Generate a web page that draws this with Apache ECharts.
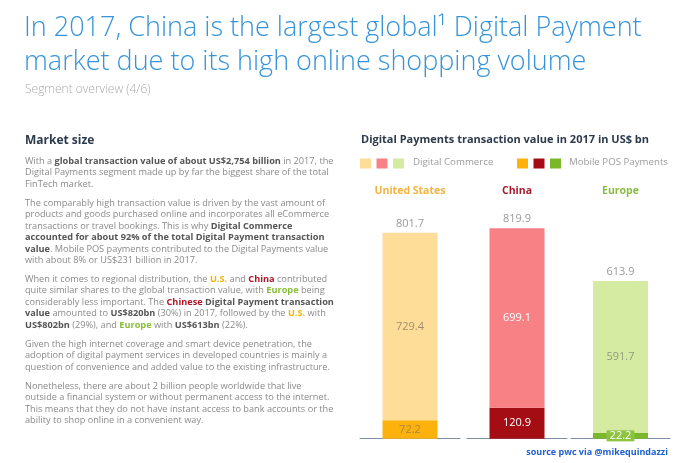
<!DOCTYPE html>
<html>
<head>
<meta charset="utf-8">
<script src="https://cdn.jsdelivr.net/npm/echarts@6/dist/echarts.min.js"></script>
<style>
  html, body { margin: 0; padding: 0; background: #fff; }
  #main { width: 680px; height: 463px; }
</style>
</head>
<body>
<div id="main"></div>
<script>
// chart data (US$ bn, 2017)
var regions = ['United States', 'China', 'Europe'];
var digitalCommerce = [729.4, 699.1, 591.7];
var mobilePOS = [72.2, 120.9, 22.2];
var totals = [801.7, 819.9, 613.9];

var lightColors = ['#fedd99', '#f78184', '#d4eba1'];
var darkColors = ['#fdb10d', '#a50d15', '#7ab829'];
var regionTextColors = ['#f5b440', '#a51c2c', '#8dbb45'];
var insideLabelColors = ['#a08c6c', '#ffffff', '#8f9c7c'];
var posLabelColors = ['#a88a3a', '#ffffff', '#ffffff'];

var FONT = '"Open Sans", "Noto Sans", sans-serif';

// grid placement for each region column
var gridLefts = [360, 467, 571];
var gridWidths = [100, 100, 99];

var grids = [], xAxes = [], yAxes = [], series = [];
for (var i = 0; i < regions.length; i++) {
  grids.push({ left: gridLefts[i], width: gridWidths[i], top: 207.6, bottom: 24.3 });
  // bottom axis: only the baseline
  xAxes.push({
    type: 'category', gridIndex: i, data: [regions[i]], position: 'bottom',
    axisLine: { show: true, lineStyle: { color: '#7f8ea6', width: 1 } },
    axisTick: { show: false }, axisLabel: { show: false }
  });
  // top axis: region name
  xAxes.push({
    type: 'category', gridIndex: i, data: [regions[i]], position: 'top',
    axisLine: { show: false }, axisTick: { show: false },
    axisLabel: {
      margin: 11, color: regionTextColors[i], fontFamily: FONT,
      fontSize: 10.5, fontWeight: 'bold'
    }
  });
  yAxes.push({ type: 'value', gridIndex: i, min: 0, max: 900, show: false, splitLine: { show: false } });

  (function (idx) {
    series.push({
      name: 'Mobile POS Payments', type: 'bar', stack: 'r' + idx,
      xAxisIndex: idx * 2, yAxisIndex: idx, barWidth: 55,
      data: [mobilePOS[idx]],
      itemStyle: { color: darkColors[idx] },
      label: {
        show: true, position: 'inside',
        color: posLabelColors[idx], fontFamily: FONT, fontSize: 11,
        backgroundColor: idx === 2 ? '#8cc440' : 'transparent',
        padding: idx === 2 ? [0, 3] : 0
      }
    });
    series.push({
      name: 'Digital Commerce', type: 'bar', stack: 'r' + idx,
      xAxisIndex: idx * 2, yAxisIndex: idx, barWidth: 55,
      data: [digitalCommerce[idx]],
      itemStyle: { color: lightColors[idx] },
      label: {
        show: true, position: 'inside',
        color: insideLabelColors[idx], fontFamily: FONT, fontSize: 11
      },
      markPoint: {
        symbol: 'rect', symbolSize: 1,
        itemStyle: { color: 'transparent' },
        label: {
          show: true, position: 'top', distance: 3,
          color: '#9a9a9a', fontFamily: FONT, fontSize: 11,
          formatter: function () { return totals[idx].toFixed(1); }
        },
        data: [{ coord: [0, totals[idx]] }]
      }
    });
  })(i);
}

// paragraph text on the left
var bodyText = [
  'With a {b|global transaction value of about US$2,754 billion} in 2017, the',
  'Digital Payments segment made up by far the biggest share of the total',
  'FinTech market.',
  '{s|}',
  'The comparably high transaction value is driven by the vast amount of',
  'products and goods purchased online and incorporates all eCommerce',
  'transactions or travel bookings. This is why {b|Digital Commerce}',
  '{b|accounted for about 92% of the total Digital Payment transaction}',
  '{b|value}. Mobile POS payments contributed to the Digital Payments value',
  'with about 8% or US$231 billion in 2017.',
  '{s|}',
  'When it comes to regional distribution, the {us|U.S.} and {cn|China} contributed',
  'quite similar shares to the global transaction value, with {eu|Europe} being',
  'considerably less important. The {cn|Chinese} {b|Digital Payment transaction}',
  '{b|value} amounted to {b|US$820bn} (30%) in 2017, followed by the {us|U.S.} with',
  '{b|US$802bn} (29%), and {eu|Europe} with {b|US$613bn} (22%).',
  '{s|}',
  'Given the high internet coverage and smart device penetration, the',
  'adoption of digital payment services in developed countries is mainly a',
  'question of convenience and added value to the existing infrastructure.',
  '{s|}',
  'Nonetheless, there are about 2 billion people worldwide that live',
  'outside a financial system or without permanent access to the internet.',
  'This means that they do not have instant access to bank accounts or the',
  'ability to shop online in a convenient way.'
];

var FS = 9.2, LH = 11.5;
function richStyle(color) {
  return { fontWeight: 'bold', fill: color, fontFamily: FONT, fontSize: FS, lineHeight: LH };
}

function legendRects(x0, colors) {
  return colors.map(function (c, k) {
    return { type: 'rect', shape: { x: x0 + k * 16.5, y: 158.5, width: 11, height: 10 }, style: { fill: c } };
  });
}

var option = {
  animation: false,
  grid: grids,
  xAxis: xAxes,
  yAxis: yAxes,
  series: series,
  graphic: [
    {
      type: 'text', left: 24, top: 11,
      style: {
        text: 'In 2017, China is the largest global\u00b9 Digital Payment\nmarket due to its high online shopping volume',
        fill: '#3794d9', font: '300 27px ' + FONT, lineHeight: 34
      }
    },
    {
      type: 'text', left: 25, top: 84,
      style: { text: 'Segment overview (4/6)', fill: '#aaaaaa', font: '300 12px ' + FONT }
    },
    {
      type: 'text', left: 25, top: 134.5,
      style: { text: 'Market size', fill: '#2d3a4b', font: 'bold 12px ' + FONT }
    },
    {
      type: 'text', left: 25, top: 155.3,
      style: {
        text: bodyText.join('\n'),
        fill: '#8a8a8a', fontFamily: FONT, fontSize: FS, lineHeight: LH,
        rich: {
          b: richStyle('#555555'),
          us: richStyle('#f5b400'),
          cn: richStyle('#b0182a'),
          eu: richStyle('#8bbd3c'),
          s: { fontSize: FS, lineHeight: 7.4 }
        }
      }
    },
    {
      type: 'text', left: 361, top: 134.5,
      style: { text: 'Digital Payments transaction value in 2017 in US$ bn', fill: '#2d3a4b', font: 'bold 11px ' + FONT }
    }
  ].concat(legendRects(360, lightColors)).concat([
    {
      type: 'text', left: 413, top: 157,
      style: { text: 'Digital Commerce', fill: '#9c9c9c', font: '9.7px ' + FONT }
    }
  ]).concat(legendRects(517, darkColors)).concat([
    {
      type: 'text', left: 569, top: 157,
      style: { text: 'Mobile POS Payments', fill: '#9c9c9c', font: '9.7px ' + FONT }
    },
    {
      type: 'text', right: 12, top: 447.5,
      style: { text: 'source pwc via @mikequindazzi', fill: '#1f5fcf', font: 'bold 9px ' + FONT }
    }
  ])
};

var myChart = echarts.init(document.getElementById('main'));
myChart.setOption(option);
</script>
</body>
</html>
